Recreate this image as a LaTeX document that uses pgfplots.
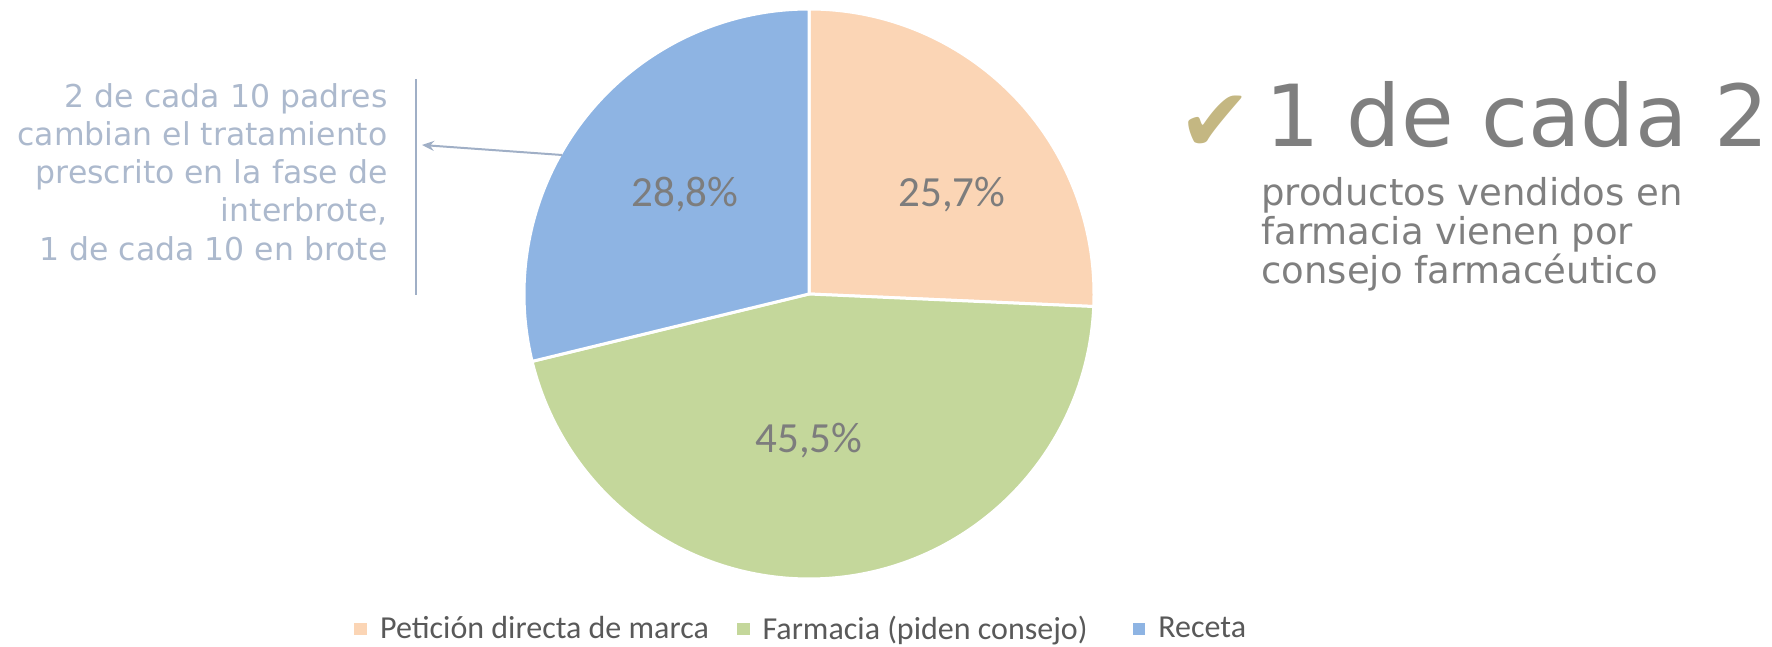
\documentclass[border=0pt]{standalone}
\usepackage{pgfplots}
\usepackage{pgfplotstable}
\usepackage{fontspec}
\usetikzlibrary{arrows.meta}
\pgfplotsset{compat=1.18}
\newfontfamily\dejavu{DejaVu Sans}
\newfontfamily\carlito{Carlito}
\definecolor{peach}{RGB}{251,213,181}
\definecolor{olivegreen}{RGB}{196,215,155}
\definecolor{skyblue}{RGB}{142,180,227}
\definecolor{pctgray}{RGB}{125,125,125}
\definecolor{leggray}{RGB}{89,89,89}
\definecolor{biggray}{RGB}{127,127,127}
\definecolor{notecol}{RGB}{172,185,205}
\definecolor{linecol}{RGB}{160,175,198}
\definecolor{checkcol}{RGB}{196,183,130}

\pgfplotstableread{
label value
Peticion 25.7
Farmacia 45.5
Receta 28.8
}\pietable

\begin{document}%
\begin{tikzpicture}
\pgfplotstablegetelem{0}{value}\of\pietable \let\va\pgfplotsretval
\pgfplotstablegetelem{1}{value}\of\pietable \let\vb\pgfplotsretval
\pgfplotstablegetelem{2}{value}\of\pietable \let\vc\pgfplotsretval
\pgfmathsetmacro\aA{90}
\pgfmathsetmacro\aB{90-\va*3.6}
\pgfmathsetmacro\aC{\aB-\vb*3.6}
\pgfmathsetmacro\aD{\aC-\vc*3.6}
\begin{axis}[
  scale only axis, width=886pt, height=323.5pt,
  xmin=0, xmax=1772, ymin=0, ymax=647,
  hide axis, clip=false,
  legend columns=-1,
  legend image code/.code={\fill[#1,draw=none] (0pt,-3.2pt) rectangle (6.4pt,3.2pt);},
  legend style={at={(axis cs:354,18)}, anchor=west, draw=none, fill=none,
    inner sep=0pt, font=\carlito\fontsize{16}{19}\selectfont, text=leggray,
    nodes={inner sep=0pt},
    /tikz/every odd column/.append style={column sep=6.5pt},
    /tikz/every even column/.append style={column sep=14pt}},
]
\path (axis cs:0,0) rectangle (axis cs:1772,647);
\addplot[fill=peach, draw=white, line width=1.5pt, domain=\aB:\aA, samples=120, variable=\t]
  ({809+285*cos(\t)}, {353+285*sin(\t)}) -- (axis cs:809,353) -- cycle;
\addlegendentry{Petición directa de marca}
\addplot[fill=olivegreen, draw=white, line width=1.5pt, domain=\aC:\aB, samples=180, variable=\t]
  ({809+285*cos(\t)}, {353+285*sin(\t)}) -- (axis cs:809,353) -- cycle;
\addlegendentry{Farmacia (piden consejo)\kern8.5pt}
\addplot[fill=skyblue, draw=white, line width=1.5pt, domain=\aD:\aC, samples=120, variable=\t]
  ({809+285*cos(\t)}, {353+285*sin(\t)}) -- (axis cs:809,353) -- cycle;
\addlegendentry{Receta}

% slice labels
\node[font=\carlito\fontsize{21.5}{24}\selectfont, text=pctgray] at (axis cs:952,452) {25,7\%};
\node[font=\carlito\fontsize{21.5}{24}\selectfont, text=pctgray] at (axis cs:809,206) {45,5\%};
\node[font=\carlito\fontsize{21.5}{24}\selectfont, text=pctgray] at (axis cs:685,452) {28,8\%};

% left annotation
\draw[linecol, line width=1pt] (axis cs:416,568) -- (axis cs:416,352);
\draw[linecol, line width=1pt, -{Stealth[length=6pt,width=5pt]}] (axis cs:562,492) -- (axis cs:422,502);
\begin{scope}[every node/.style={font=\dejavu\fontsize{15.75}{19}\selectfont, text=notecol, anchor=base east, inner sep=0pt}]
\node at (axis cs:388,539) {2 de cada 10 padres};
\node at (axis cs:388,501) {cambian el tratamiento};
\node at (axis cs:388,463) {prescrito en la fase de};
\node at (axis cs:388,425) {interbrote,};
\node at (axis cs:388,386) {1 de cada 10 en brote};
\end{scope}

% right annotation
\node[font=\dejavu\fontsize{44}{46}\selectfont, text=checkcol, inner sep=0pt] at (axis cs:1215,523) {✔};
\node[font=\dejavu\fontsize{42.8}{46}\selectfont, text=biggray, anchor=base west, inner sep=0pt] at (axis cs:1265,500) {1 de cada 2};
\begin{scope}[every node/.style={font=\dejavu\fontsize{18.5}{22}\selectfont, text=biggray, anchor=base west, inner sep=0pt}]
\node at (axis cs:1261,441) {productos vendidos en};
\node at (axis cs:1261,402) {farmacia vienen por};
\node at (axis cs:1261,363) {consejo farmacéutico};
\end{scope}
\end{axis}
\end{tikzpicture}%
\end{document}
